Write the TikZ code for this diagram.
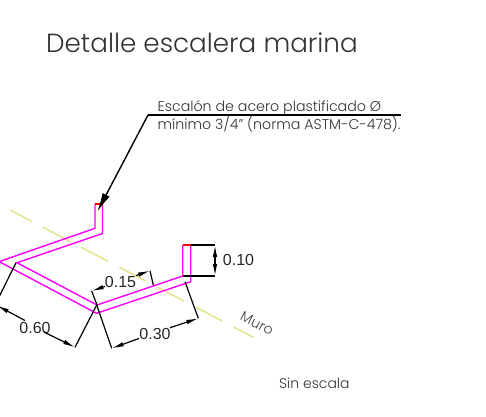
\documentclass[tikz,border=0pt]{standalone}
\usepackage{fontspec}
\setmainfont{Poppins Light}
\newfontfamily\dimfont{Liberation Sans}
\usetikzlibrary{arrows.meta}
\definecolor{murocolor}{RGB}{226,226,130}
\definecolor{stepcolor}{RGB}{255,0,255}
\tikzset{
  step line/.style={stepcolor, line width=1.4pt, line join=miter},
  dim line/.style={black, line width=1.2pt, -{Latex[length=12pt,width=4.5pt]}},
  wit line/.style={black, line width=1.2pt},
  dim text/.style={font=\dimfont\fontsize{16}{18}\selectfont, text=black!85, inner sep=1pt},
  note text/.style={font=\fontsize{14.2}{16}\selectfont, text=black!80, inner sep=0pt, anchor=base west}
}
\begin{document}
\begin{tikzpicture}[x=1pt,y=-1pt]
\useasboundingbox (0,0) rectangle (486,416);
% title
\node [anchor=base west, inner sep=0pt, font=\fontsize{26.2}{30}\selectfont, text=black!80] (title) at (46,52) {Detalle escalera marina};
% wall axis
\draw [murocolor, line width=1.4pt, dash pattern=on 30pt off 13pt, dash phase=5.6pt] (10,210) -- (253.3,337.3);
\node [rotate=-27, font=\fontsize{14}{16}\selectfont, text=black!75, inner sep=0pt] (muro) at (257,323.5) {Muro};
% rungs
\draw [step line] (95,204) -- (95,228.3) -- (-2,262);
\draw [step line] (102.5,204) -- (102.5,233.5) -- (17,262.7) -- (97,305) -- (182.7,276) -- (182.7,245);
\draw [step line] (-2,261) -- (96.5,313.3) -- (190.7,281.7) -- (190.7,245);
\draw [red, line width=1.4pt] (95,204) -- (102.5,204);
\draw [red, line width=1.4pt] (182.7,245) -- (190.7,245);
% witness lines
\draw [wit line] (190.7,245) -- (215,245);
\draw [wit line] (215,276) -- (182.7,276);
\draw [wit line] (96.7,305) -- (111.7,348.3);
\draw [wit line] (185,281.7) -- (198.3,318.3);
\draw [wit line] (91.7,291) -- (97,305);
\draw [wit line] (150,270.7) -- (153.3,285);
\draw [wit line] (16,262.7) -- (-1,297);
\draw [wit line] (96.7,305) -- (75,347.3);
% dimensions
\node [dim text] (h10) at (238.5,260) {0.10};
\node [dim text] (h30) at (155,334) {0.30};
\node [dim text] (h15) at (120.5,282) {0.15};
\node [dim text] (h60) at (35,328) {0.60};
\coordinate (t10a) at (215,245);
\coordinate (t10b) at (215,276);
\coordinate (t10m) at (215,260.5);
\coordinate (t30a) at (111.7,348.3);
\coordinate (t30b) at (198.3,318.3);
\coordinate (s30a) at (139,338.5);
\coordinate (s30b) at (170,327.7);
\coordinate (t15a) at (91.7,291);
\coordinate (t15b) at (150,270.7);
\coordinate (s15a) at (105,286.4);
\coordinate (s15b) at (136,275.6);
\coordinate (t60a) at (75,347.3);
\coordinate (t60b) at (-3,305.5);
\coordinate (s60a) at (44,332);
\coordinate (s60b) at (25,320.5);
\draw [dim line] (t10m) -- (t10a);
\draw [dim line] (t10m) -- (t10b);
\draw [dim line] (s30a) -- (t30a);
\draw [dim line] (s30b) -- (t30b);
\draw [dim line] (s15a) -- (t15a);
\draw [dim line] (s15b) -- (t15b);
\draw [dim line] (s60a) -- (t60a);
\draw [dim line] (s60b) -- (t60b);
% note
\node [note text] (note1) at (157.5,111.5) {Escalón de acero plastificado Ø};
\node [note text] (note2) at (157.5,129) {mínimo 3/4" (norma ASTM-C-478).};
\coordinate (ldr) at (148,115);
\coordinate (ldrend) at (400.5,115);
\coordinate (ldrtip) at (97.3,211.7);
\draw [wit line] (ldrend) -- (ldr);
\draw [black, line width=1.4pt, -{Latex[length=19pt,width=8pt]}] (ldr) -- (ldrtip);
\node [anchor=base west, inner sep=0pt, font=\fontsize{14}{16}\selectfont, text=black!80] (scale) at (279,388) {Sin escala};
\end{tikzpicture}
\end{document}
